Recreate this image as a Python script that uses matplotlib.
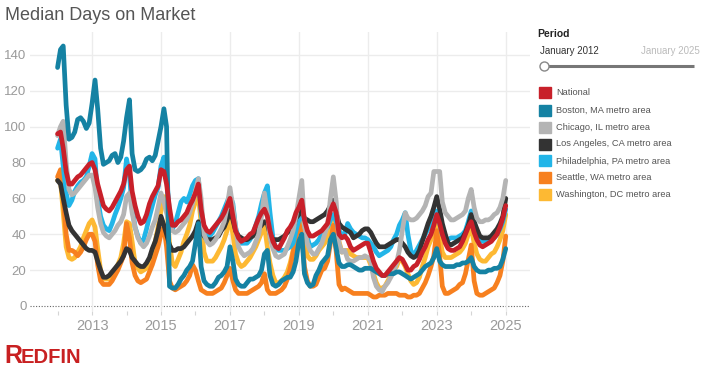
"""
Median days on market: national figure and six metro areas, Redfin style.
"""
import matplotlib
matplotlib.use('Agg')
import matplotlib.dates as mdates
import matplotlib.pyplot as plt
import pandas as pd
from matplotlib.lines import Line2D
from matplotlib.patches import Rectangle

OUTPUT = 'out.png'
W, H = 705, 372

MONTHS = pd.date_range('2012-01-01', '2025-01-01', freq='MS')

NAMES = ['National', 'Boston, MA metro area', 'Chicago, IL metro area',
         'Los Angeles, CA metro area', 'Philadelphia, PA metro area',
         'Seattle, WA metro area', 'Washington, DC metro area']
COLORS = ['#c8202a', '#1582a3', '#b4b4b4', '#333333', '#22b5e8',
          '#f7801f', '#fdb933']

# one row per year, Jan..Dec, last row is Jan 2025
NATIONAL = [
    96, 97, 88, 75, 68, 68, 70, 72, 73, 75, 77, 79,
    80, 76, 68, 62, 56, 54, 53, 55, 58, 61, 64, 68,
    76, 78, 64, 56, 50, 46, 47, 51, 57, 61, 64, 67,
    76, 75, 68, 55, 45, 45, 47, 48, 50, 52, 56, 59,
    63, 68, 54, 45, 42, 41, 43, 45, 47, 49, 52, 56,
    60, 50, 42, 38, 36, 37, 38, 40, 41, 45, 49, 52,
    54, 50, 42, 36, 33, 32, 35, 38, 42, 44, 47, 52,
    55, 59, 48, 42, 39, 39, 40, 41, 42, 44, 46, 53,
    57, 52, 40, 38, 39, 37, 33, 31, 32, 33, 34, 35,
    35, 30, 25, 21, 19, 17, 17, 19, 21, 23, 25, 27,
    26, 23, 20, 20, 22, 23, 26, 30, 33, 37, 40, 45,
    51, 46, 40, 35, 32, 31, 31, 32, 33, 36, 40, 44,
    47, 41, 37, 34, 33, 34, 35, 36, 38, 40, 44, 49,
    56,
]
BOSTON = [
    133, 143, 145, 112, 93, 94, 97, 104, 105, 103, 99, 102,
    113, 126, 110, 88, 79, 80, 81, 84, 85, 80, 83, 92,
    105, 115, 85, 76, 75, 76, 78, 82, 83, 81, 84, 92,
    100, 110, 100, 11, 10, 10, 12, 15, 17, 20, 22, 25,
    35, 46, 22, 14, 12, 11, 11, 13, 16, 17, 19, 22,
    33, 25, 15, 12, 11, 11, 13, 15, 15, 16, 17, 20,
    29, 31, 17, 12, 11, 12, 14, 15, 16, 16, 19, 25,
    36, 40, 18, 13, 11, 12, 17, 20, 24, 26, 28, 37,
    40, 32, 24, 22, 22, 23, 23, 22, 21, 20, 20, 21,
    21, 21, 20, 19, 18, 17, 17, 18, 18, 18, 19, 19,
    18, 17, 16, 15, 16, 17, 18, 20, 22, 23, 24, 27,
    32, 25, 23, 22, 22, 22, 22, 23, 23, 24, 24, 25,
    27, 22, 20, 19, 19, 19, 20, 20, 21, 21, 22, 26,
    32,
]
CHICAGO = [
    95, 100, 103, 80, 65, 62, 63, 65, 67, 69, 71, 73,
    73, 66, 55, 46, 41, 39, 38, 40, 42, 45, 47, 51,
    61, 63, 52, 44, 38, 35, 33, 35, 39, 44, 48, 55,
    63, 58, 52, 46, 42, 41, 42, 44, 46, 48, 52, 57,
    64, 71, 60, 40, 36, 34, 35, 37, 40, 43, 47, 55,
    66, 55, 44, 33, 30, 28, 29, 30, 32, 36, 40, 50,
    63, 52, 38, 32, 28, 27, 28, 29, 33, 37, 42, 50,
    60, 70, 45, 35, 31, 29, 29, 32, 35, 40, 45, 60,
    72, 58, 35, 30, 31, 26, 25, 25, 26, 27, 27, 28,
    27, 25, 16, 11, 9, 8, 11, 13, 16, 19, 24, 31,
    42, 52, 49, 48, 48, 49, 51, 53, 56, 61, 63, 75,
    75, 75, 58, 52, 50, 48, 48, 49, 50, 51, 53, 60,
    65, 55, 49, 47, 47, 48, 48, 49, 51, 52, 55, 60,
    70,
]
LOS_ANGELES = [
    70, 68, 60, 52, 45, 42, 40, 38, 36, 34, 32, 31,
    31, 30, 25, 20, 16, 16, 17, 19, 21, 23, 25, 28,
    32, 31, 27, 25, 23, 22, 22, 24, 27, 32, 36, 42,
    50, 45, 40, 34, 31, 31, 32, 32, 33, 35, 37, 39,
    42, 47, 41, 39, 37, 37, 37, 38, 39, 42, 44, 48,
    53, 48, 42, 39, 38, 37, 37, 38, 39, 41, 43, 45,
    47, 46, 40, 37, 37, 37, 38, 39, 41, 42, 44, 49,
    51, 53, 49, 48, 47, 47, 48, 49, 50, 51, 53, 56,
    59, 52, 46, 44, 43, 42, 41, 38, 39, 40, 42, 43,
    43, 41, 38, 35, 33, 33, 33, 34, 35, 36, 37, 37,
    35, 33, 30, 28, 27, 28, 31, 36, 41, 46, 50, 55,
    61, 54, 46, 40, 35, 34, 35, 36, 37, 38, 41, 45,
    51, 47, 43, 39, 38, 38, 38, 39, 41, 43, 46, 50,
    60,
]
PHILADELPHIA = [
    88, 93, 78, 63, 56, 59, 64, 67, 69, 70, 72, 78,
    85, 82, 60, 50, 45, 43, 42, 46, 51, 55, 60, 66,
    82, 73, 55, 44, 39, 35, 37, 43, 50, 56, 62, 66,
    78, 83, 72, 52, 43, 46, 52, 58, 60, 58, 62, 67,
    70, 71, 52, 41, 39, 39, 41, 44, 47, 50, 54, 58,
    62, 57, 44, 37, 35, 35, 35, 37, 40, 45, 50, 57,
    63, 67, 52, 38, 32, 31, 31, 31, 32, 33, 35, 42,
    48, 54, 45, 38, 33, 34, 35, 37, 40, 42, 44, 48,
    51, 47, 42, 40, 40, 46, 43, 41, 40, 39, 38, 38,
    37, 35, 33, 30, 28, 29, 30, 31, 33, 37, 40, 45,
    48, 52, 40, 31, 28, 31, 34, 37, 40, 43, 45, 49,
    53, 46, 40, 37, 37, 38, 38, 38, 39, 40, 42, 47,
    53, 47, 41, 37, 36, 36, 37, 37, 38, 40, 43, 47,
    54,
]
SEATTLE = [
    72, 76, 60, 40, 31, 31, 30, 28, 30, 33, 37, 40,
    40, 36, 23, 14, 12, 12, 12, 14, 17, 20, 24, 28,
    46, 38, 24, 17, 14, 13, 14, 15, 19, 23, 28, 33,
    40, 44, 33, 14, 10, 9, 10, 11, 12, 14, 17, 23,
    20, 14, 9, 8, 7, 7, 7, 8, 9, 10, 13, 17,
    21, 14, 9, 7, 7, 7, 7, 8, 9, 10, 11, 13,
    18, 9, 7, 7, 7, 8, 9, 11, 15, 21, 30, 38,
    46, 40, 22, 14, 11, 11, 12, 16, 20, 21, 25, 35,
    45, 30, 12, 9, 10, 9, 8, 7, 7, 7, 7, 7,
    7, 6, 5, 5, 6, 6, 6, 7, 7, 7, 7, 6,
    6, 6, 5, 5, 6, 6, 7, 10, 13, 17, 22, 28,
    42, 28, 11, 7, 7, 8, 9, 10, 12, 13, 18, 26,
    34, 14, 7, 6, 6, 7, 8, 9, 10, 13, 17, 25,
    39,
]
WASHINGTON = [
    70, 70, 52, 33, 27, 26, 27, 30, 33, 38, 42, 46,
    48, 44, 32, 20, 15, 15, 15, 17, 20, 23, 27, 35,
    47, 46, 36, 24, 21, 19, 20, 21, 25, 30, 36, 44,
    53, 61, 57, 35, 24, 22, 26, 30, 36, 40, 45, 53,
    58, 62, 46, 30, 25, 25, 25, 27, 30, 33, 37, 42,
    50, 40, 29, 24, 22, 23, 25, 27, 30, 33, 37, 41,
    45, 33, 24, 17, 13, 13, 14, 16, 19, 24, 31, 42,
    53, 45, 37, 28, 26, 26, 28, 31, 33, 35, 38, 42,
    50, 44, 36, 30, 31, 31, 29, 28, 27, 27, 27, 27,
    27, 23, 18, 13, 10, 10, 11, 14, 17, 20, 22, 26,
    25, 22, 18, 14, 12, 13, 16, 22, 27, 33, 37, 42,
    47, 38, 30, 27, 27, 27, 28, 29, 30, 32, 35, 40,
    44, 35, 29, 26, 25, 25, 27, 29, 30, 33, 37, 42,
    51,
]
SERIES = [NATIONAL, BOSTON, CHICAGO, LOS_ANGELES, PHILADELPHIA, SEATTLE,
          WASHINGTON]

LABEL_YEARS = [2013, 2015, 2017, 2019, 2021, 2023, 2025]
Y_TICKS = [0, 20, 40, 60, 80, 100, 120, 140]

GREY_TEXT = '#9a9a9a'


def fx(px):
    return px / W


def fy(py):
    return 1 - py / H


def draw_chart(fig):
    ax = fig.add_axes([fx(30), fy(311), fx(500), (311 - 32) / H])
    # legend order top to bottom, so draw it backwards to keep National on top
    for name, values, color in reversed(list(zip(NAMES, SERIES, COLORS))):
        ax.plot(MONTHS, values, color=color, lw=3.4, label=name,
                solid_joinstyle='round', solid_capstyle='round')

    ax.set_xlim(pd.Timestamp('2011-03-15'), pd.Timestamp('2025-09-15'))
    ax.set_ylim(-2.8, 152.8)
    ax.axhline(0, color='#666666', lw=0.8, ls=(0, (1, 1.5)), zorder=0.5)

    ax.set_xticks([pd.Timestamp(f'{y}-01-01') for y in LABEL_YEARS])
    ax.set_xticklabels([str(y) for y in LABEL_YEARS])
    ax.xaxis.set_minor_locator(mdates.YearLocator(2, month=1, day=1))
    ax.set_yticks(Y_TICKS)

    ax.grid(axis='x', which='major', color='#ececec', lw=1)
    ax.grid(axis='y', color='#ececec', lw=1)
    ax.set_axisbelow(True)
    for gl, val in zip(ax.get_ygridlines(), Y_TICKS):
        if val == 0:
            gl.set_visible(False)

    for spine in ax.spines.values():
        spine.set_visible(False)
    ax.tick_params(axis='y', length=0, pad=2.5, labelsize=9.5,
                   labelcolor=GREY_TEXT)
    ax.tick_params(axis='x', which='both', length=3, width=0.8,
                   color='#d5d5d5', pad=2.5, labelsize=10.5,
                   labelcolor=GREY_TEXT)
    return ax


def draw_legend(fig):
    fig.text(fx(537), fy(34), 'Period', fontsize=7.5, fontweight='bold',
             color='#222222', va='center')
    fig.text(fx(540), fy(50.7), 'January 2012', fontsize=7, color='#333333',
             va='center')
    fig.text(fx(700), fy(50.7), 'January 2025', fontsize=7, color='#bbbbbb',
             va='center', ha='right')
    fig.add_artist(Line2D([fx(545), fx(694)], [fy(65.7), fy(65.7)],
                          transform=fig.transFigure, color='#777777', lw=2.2,
                          solid_capstyle='butt'))
    fig.add_artist(Line2D([fx(544)], [fy(65.7)], transform=fig.transFigure,
                          marker='o', ms=6.5, mfc='white', mec='#888888',
                          mew=1, ls='none'))

    rows = [92.7, 110, 127.3, 144, 161, 177.7, 194.7]
    for name, color, y in zip(NAMES, COLORS, rows):
        fig.add_artist(Rectangle((fx(539.3), fy(y + 5.5)), 11.4 / W, 11 / H,
                                 transform=fig.transFigure, color=color))
        fig.text(fx(556.5), fy(y), name, fontsize=6.7, color='#555555',
                 va='center')


def draw_text(fig):
    fig.text(fx(5), fy(15.5), 'Median Days on Market', fontsize=13,
             color='#555555', va='center')
    fig.text(fx(4), fy(363), 'R', fontsize=18, fontweight='bold',
             color='#c82021', va='baseline')
    fig.text(fx(21), fy(363), 'EDFIN', fontsize=14.5, fontweight='bold',
             color='#c82021', va='baseline')


if __name__ == "__main__":
    plt.rcParams['font.family'] = ['Liberation Sans', 'DejaVu Sans']
    for values in SERIES:
        assert len(values) == len(MONTHS)
    fig = plt.figure(figsize=(W / 100, H / 100), dpi=100)
    draw_chart(fig)
    draw_legend(fig)
    draw_text(fig)
    fig.savefig(OUTPUT, dpi=100)
    print(f"Plotted {OUTPUT}")
